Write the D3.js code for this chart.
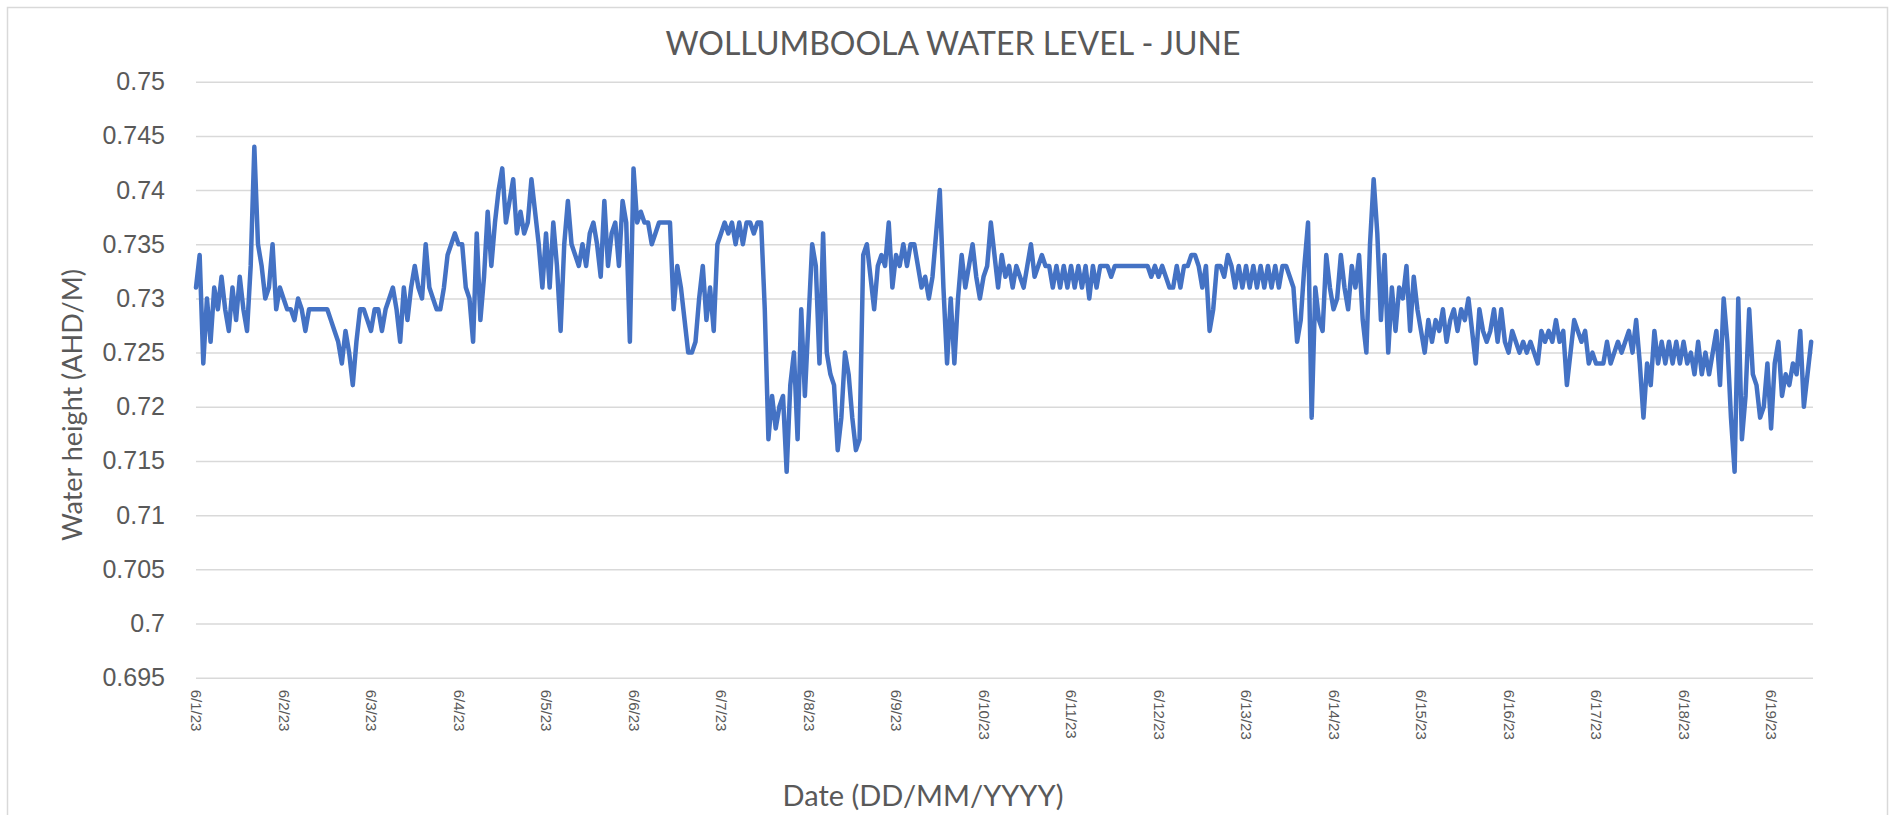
<!DOCTYPE html>
<html>
<head>
<meta charset="utf-8">
<script src="https://cdn.jsdelivr.net/npm/d3@7"></script>
<style>
  html, body { margin: 0; padding: 0; background: #ffffff; }
  svg { display: block; font-family: Lato, "Open Sans", "DejaVu Sans", sans-serif; }
</style>
</head>
<body>
<svg id="chart" width="1904" height="815"></svg>
<script>
// Axis labels
const dateLabels = ["6/1/23","6/2/23","6/3/23","6/4/23","6/5/23","6/6/23","6/7/23","6/8/23","6/9/23","6/10/23",
                    "6/11/23","6/12/23","6/13/23","6/14/23","6/15/23","6/16/23","6/17/23","6/18/23","6/19/23"];
const levelTicks = [0.695, 0.7, 0.705, 0.71, 0.715, 0.72, 0.725, 0.73, 0.735, 0.74, 0.745, 0.75];

// Hourly logger readings (water height in mm AHD), starting 1 June 2023 00:00
const readingStart = new Date(2023, 5, 1, 0, 0);
const readingStepHours = 1;
const axisEnd = new Date(2023, 5, 19, 11, 30);

const jun01 = [731,734,724,730,726,731,729,732,729,727,731,728,732,729,727,733,744,735,733,730,731,735,729,731];
const jun02 = [730,729,729,728,730,729,727,729,729,729,729,729,729,728,727,726,724,727,725,722,726,729,729,728];
const jun03 = [727,729,729,727,729,730,731,729,726,731,728,731,733,731,730,735,731,730,729,729,731,734,735,736];
const jun04 = [735,735,731,730,726,736,728,732,738,733,737,740,742,737,739,741,736,738,736,737,741,738,735,731];
const jun05 = [736,731,737,733,727,735,739,735,734,733,735,733,736,737,735,732,739,733,736,737,733,739,737,726];
const jun06 = [742,737,738,737,737,735,736,737,737,737,737,729,733,731,728,725,725,726,730,733,728,731,727,735];
const jun07 = [736,737,736,737,735,737,735,737,737,736,737,737,729,717,721,718,720,721,714,722,725,717,729,721];
const jun08 = [728,735,733,724,736,725,723,722,716,719,725,723,719,716,717,734,735,732,729,733,734,733,737,731];
const jun09 = [734,733,735,733,735,735,733,731,732,730,732,736,740,731,724,730,724,730,734,731,733,735,732,730];
const jun10 = [732,733,737,734,731,734,732,733,731,733,732,731,733,735,732,733,734,733,733,731,733,731,733,731];
const jun11 = [733,731,733,731,733,730,733,731,733,733,733,732,733,733,733,733,733,733,733,733,733,733,732,733];
const jun12 = [732,733,732,731,731,733,731,733,733,734,734,733,731,733,727,729,733,733,732,734,733,731,733,731];
const jun13 = [733,731,733,731,733,731,733,731,733,731,733,733,732,731,726,728,733,737,719,731,728,727,734,731];
const jun14 = [729,730,734,731,729,733,731,734,728,725,735,741,736,728,734,725,731,727,731,730,733,727,732,729];
const jun15 = [727,725,728,726,728,727,729,726,728,729,727,729,728,730,727,724,729,727,726,727,729,726,729,726];
const jun16 = [725,727,726,725,726,725,726,725,724,727,726,727,726,728,726,727,722,725,728,727,726,727,724,725];
const jun17 = [724,724,724,726,724,725,726,725,726,727,725,728,724,719,724,722,727,724,726,724,726,724,726,724];
const jun18 = [726,724,725,723,726,723,725,723,725,727,722,730,726,719,714,730,717,721,729,723,722,719,720,724];
const jun19 = [718,724,726,721,723,722,724,723,727,720,723,726];

const dailyReadings = [jun01, jun02, jun03, jun04, jun05, jun06, jun07, jun08, jun09, jun10,
                       jun11, jun12, jun13, jun14, jun15, jun16, jun17, jun18, jun19];

const readings = dailyReadings.flat().map((mm, i) => ({
  time: d3.timeHour.offset(readingStart, i * readingStepHours),
  level: mm / 1000
}));

const svg = d3.select("#chart");
const textColor = "#595959";
const gridColor = "#d9d9d9";

const plot = { left: 196, right: 1813, top: 81.7, bottom: 677.7 };

const x = d3.scaleTime().domain([readingStart, axisEnd]).range([plot.left, plot.right]);
const y = d3.scaleLinear().domain([0.695, 0.75]).range([plot.bottom, plot.top]);

// Chart frame
svg.append("rect")
  .attr("x", 7.5).attr("y", 7.5)
  .attr("width", 1880).attr("height", 840)
  .attr("fill", "#ffffff")
  .attr("stroke", gridColor)
  .attr("stroke-width", 1.5);

// Value axis with horizontal gridlines
const yAxis = svg.append("g")
  .attr("transform", `translate(${plot.left},0)`)
  .call(d3.axisLeft(y)
    .tickValues(levelTicks)
    .tickSize(-(plot.right - plot.left))
    .tickPadding(31)
    .tickFormat(d => String(d)));
yAxis.select(".domain").remove();
yAxis.selectAll(".tick line").attr("stroke", gridColor).attr("stroke-width", 1.5);
yAxis.selectAll(".tick text")
  .attr("fill", textColor)
  .style("font-size", "25px");

// Date axis with vertical labels
const parseLabel = d3.timeParse("%m/%d/%y");
const xAxis = svg.append("g")
  .attr("transform", `translate(0,${plot.bottom})`)
  .call(d3.axisBottom(x)
    .tickValues(dateLabels.map(parseLabel))
    .tickSize(0)
    .tickFormat(d3.timeFormat("%-m/%-d/%y")));
xAxis.select(".domain").remove();
xAxis.selectAll(".tick text")
  .attr("transform", "rotate(90)")
  .attr("x", 12)
  .attr("y", 0)
  .attr("dy", "0.35em")
  .attr("text-anchor", "start")
  .attr("fill", textColor)
  .style("font-size", "15px");

// Water level line
const line = d3.line()
  .x(d => x(d.time))
  .y(d => y(d.level));

svg.append("path")
  .datum(readings)
  .attr("d", line)
  .attr("fill", "none")
  .attr("stroke", "#4472C4")
  .attr("stroke-width", 4.5)
  .attr("stroke-linejoin", "round")
  .attr("stroke-linecap", "round");

// Titles
svg.append("text")
  .attr("x", 953).attr("y", 55)
  .attr("text-anchor", "middle")
  .attr("fill", textColor)
  .style("font-size", "32px")
  .text("WOLLUMBOOLA WATER LEVEL - JUNE");

svg.append("text")
  .attr("transform", "translate(71,405) rotate(-90)")
  .attr("text-anchor", "middle")
  .attr("dominant-baseline", "central")
  .attr("fill", textColor)
  .style("font-size", "27px")
  .text("Water height (AHD/M)");

svg.append("text")
  .attr("x", 923).attr("y", 806)
  .attr("text-anchor", "middle")
  .attr("fill", textColor)
  .style("font-size", "29px")
  .text("Date (DD/MM/YYYY)");
</script>
</body>
</html>
